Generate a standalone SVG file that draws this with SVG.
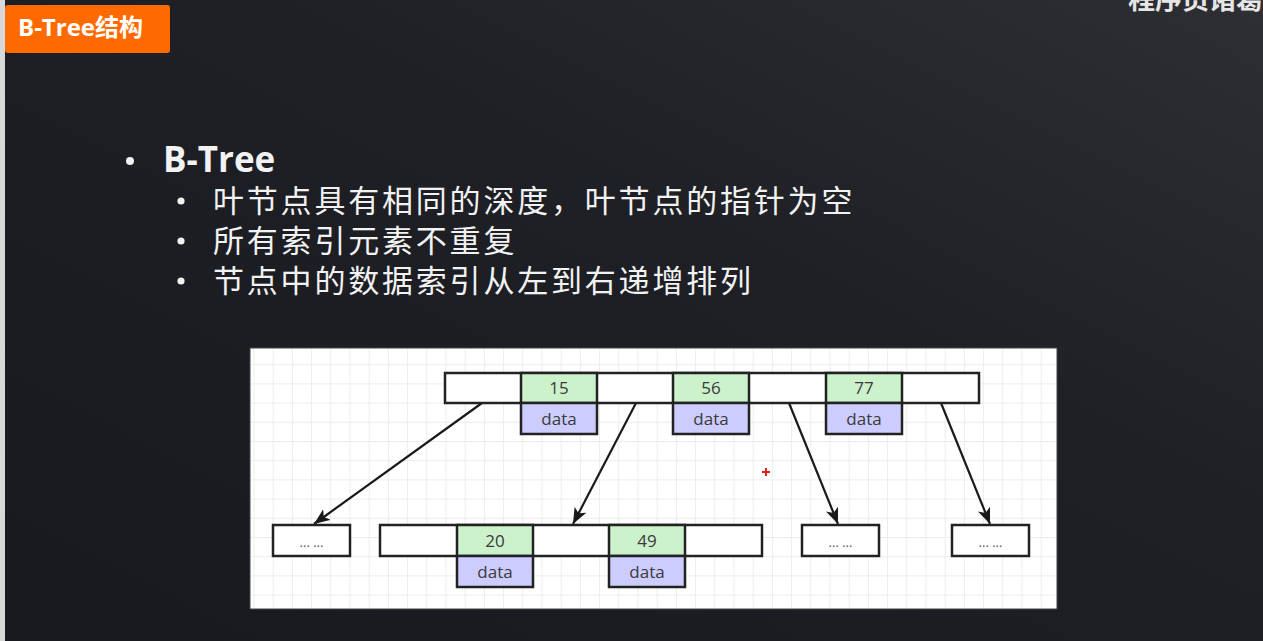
<svg xmlns="http://www.w3.org/2000/svg" width="1263" height="641" viewBox="0 0 1263 641">
  <defs>
    <linearGradient id="bg" x1="0" y1="1" x2="1" y2="0">
      <stop offset="0" stop-color="#17191f"/>
      <stop offset="0.6" stop-color="#1f2026"/>
      <stop offset="1" stop-color="#2e2f33"/>
    </linearGradient>
    <pattern id="grid" patternUnits="userSpaceOnUse" x="253.5" y="364.2" width="19.2" height="19.2">
      <path d="M0,0.5 H19.2 M0.5,0 V19.2" fill="none" stroke="#ececec" stroke-width="1"/>
    </pattern>
    <marker id="arrow" markerUnits="userSpaceOnUse" markerWidth="18" markerHeight="14" refX="16" refY="6.5" orient="auto">
      <path d="M0,0 L16,6.5 L0,13 L4,6.5 z" fill="#1a1a1a"/>
    </marker>
    <style>
      .cell { stroke: #222; stroke-width: 2.5; }
      .white { fill: #ffffff; }
      .key { fill: #ccf2cc; }
      .data { fill: #ccccff; }
      .lbl { font-family: "Open Sans", "Liberation Sans", sans-serif; font-size: 17px; fill: #3a3a3a; text-anchor: middle; }
      .dots { font-family: "Open Sans", "Liberation Sans", sans-serif; font-size: 13px; fill: #555; text-anchor: middle; }
      .cn { font-family: "Noto Sans CJK SC", "Noto Sans", sans-serif; font-size: 31px; fill: #f2f2f2; letter-spacing: 2.8px; }
      .edge { stroke: #1a1a1a; stroke-width: 2.2; fill: none; marker-end: url(#arrow); }
    </style>
  </defs>

  <!-- background -->
  <rect x="0" y="0" width="1263" height="641" fill="url(#bg)"/>
  <rect x="0" y="0" width="5" height="641" fill="#d8d8d8"/>

  <!-- title badge -->
  <g id="title">
    <rect x="5" y="5" width="165" height="48" rx="3" fill="#ff6a00"/>
    <text x="18" y="36" font-family="Open Sans, 'Noto Sans CJK SC', sans-serif" font-weight="bold" font-size="24" fill="#ffffff">B-Tree结构</text>
  </g>

  <!-- watermark -->
  <text x="1128" y="9" font-family="'Noto Sans CJK SC', sans-serif" font-weight="bold" font-size="27" fill="#e6e6e6">程序员诸葛</text>

  <!-- bullets -->
  <g id="bullets">
    <circle cx="130" cy="161" r="4" fill="#f2f2f2"/>
    <text x="163" y="172" font-family="'Open Sans', 'Liberation Sans', sans-serif" font-weight="bold" font-size="35" fill="#f2f2f2">B-Tree</text>
    <circle cx="181" cy="201" r="3.6" fill="#f2f2f2"/>
    <text class="cn" x="213" y="212">叶节点具有相同的深度，叶节点的指针为空</text>
    <circle cx="181" cy="241" r="3.6" fill="#f2f2f2"/>
    <text class="cn" x="213" y="252">所有索引元素不重复</text>
    <circle cx="181" cy="281" r="3.6" fill="#f2f2f2"/>
    <text class="cn" x="213" y="292">节点中的数据索引从左到右递增排列</text>
  </g>

  <!-- diagram panel -->
  <rect x="250" y="348" width="807" height="261" fill="#ffffff" stroke="#444" stroke-width="1"/>
  <rect x="251" y="349" width="805" height="259" fill="url(#grid)"/>

  <!-- connectors -->
  <g id="connectors">
    <line class="edge" x1="482" y1="403" x2="314" y2="524"/>
    <line class="edge" x1="636" y1="403" x2="573" y2="524"/>
    <line class="edge" x1="789" y1="403" x2="838" y2="524"/>
    <line class="edge" x1="941" y1="403" x2="990" y2="524"/>
  </g>

  <!-- root node -->
  <g id="node-root">
    <rect class="cell white" x="445" y="373" width="534" height="30"/>
    <rect class="cell key" x="521" y="373" width="76" height="30"/>
    <rect class="cell data" x="521" y="403" width="76" height="31"/>
    <rect class="cell key" x="673" y="373" width="76" height="30"/>
    <rect class="cell data" x="673" y="403" width="76" height="31"/>
    <rect class="cell key" x="826" y="373" width="76" height="30"/>
    <rect class="cell data" x="826" y="403" width="76" height="31"/>
    <text class="lbl" x="559" y="394">15</text>
    <text class="lbl" x="559" y="425">data</text>
    <text class="lbl" x="711" y="394">56</text>
    <text class="lbl" x="711" y="425">data</text>
    <text class="lbl" x="864" y="394">77</text>
    <text class="lbl" x="864" y="425">data</text>
  </g>

  <!-- leaf 1 -->
  <g id="leaf-1">
    <rect class="cell white" x="273" y="525" width="77" height="31"/>
    <text class="dots" x="311.5" y="547">... ...</text>
  </g>

  <!-- leaf 2 -->
  <g id="leaf-2">
    <rect class="cell white" x="380" y="525" width="382" height="31"/>
    <rect class="cell key" x="457" y="525" width="76" height="31"/>
    <rect class="cell data" x="457" y="556" width="76" height="31"/>
    <rect class="cell key" x="609" y="525" width="76" height="31"/>
    <rect class="cell data" x="609" y="556" width="76" height="31"/>
    <text class="lbl" x="495" y="547">20</text>
    <text class="lbl" x="495" y="578">data</text>
    <text class="lbl" x="647" y="547">49</text>
    <text class="lbl" x="647" y="578">data</text>
  </g>

  <!-- leaf 3 -->
  <g id="leaf-3">
    <rect class="cell white" x="802" y="525" width="77" height="31"/>
    <text class="dots" x="840.5" y="547">... ...</text>
  </g>

  <!-- leaf 4 -->
  <g id="leaf-4">
    <rect class="cell white" x="952" y="525" width="77" height="31"/>
    <text class="dots" x="990.5" y="547">... ...</text>
  </g>

  <!-- cursor mark -->
  <path d="M762,472 H770 M766,468 V476" stroke="#e02020" stroke-width="2"/>
</svg>
